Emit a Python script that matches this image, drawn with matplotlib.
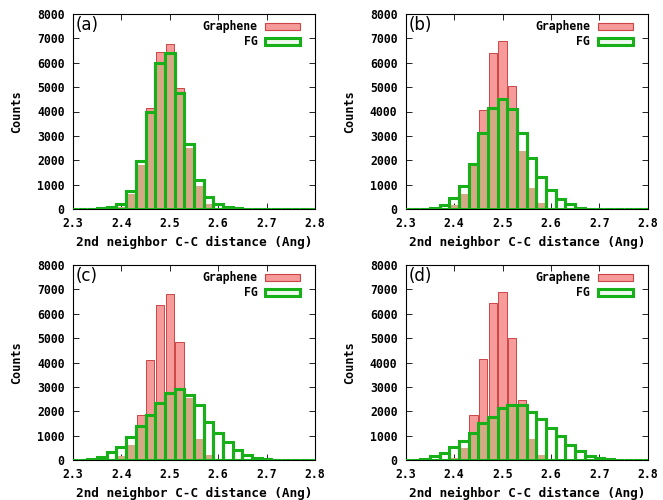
import numpy as np
import matplotlib
matplotlib.use("Agg")
import matplotlib.pyplot as plt
from matplotlib.patches import Patch

# bin centres of the histograms (Ang)
bins = [2.30, 2.32, 2.34, 2.36, 2.38, 2.40, 2.42, 2.44, 2.46, 2.48, 2.50, 2.52, 2.54,
        2.56, 2.58, 2.60, 2.62, 2.64, 2.66, 2.68, 2.70, 2.72, 2.74, 2.76, 2.78, 2.80]

graphene_a = [0, 0, 0, 0, 20, 100, 600, 1800, 4150, 6450, 6750, 4950, 2500,
              950, 200, 50, 0, 0, 0, 0, 0, 0, 0, 0, 0, 0]
fg_a = [0, 0, 0, 30, 100, 220, 720, 1950, 4000, 6000, 6400, 4750, 2650,
        1190, 500, 220, 100, 40, 0, 0, 0, 0, 0, 0, 0, 0]

graphene_b = [0, 0, 0, 0, 30, 150, 600, 1800, 4050, 6400, 6900, 5050, 2400,
              850, 250, 50, 0, 0, 0, 0, 0, 0, 0, 0, 0, 0]
fg_b = [0, 0, 0, 50, 150, 450, 950, 1850, 3100, 4150, 4500, 4100, 3100,
        2100, 1300, 800, 400, 200, 50, 0, 0, 0, 0, 0, 0, 0]

graphene_c = [0, 0, 0, 0, 30, 150, 600, 1850, 4100, 6350, 6800, 4850, 2550,
              850, 200, 30, 0, 0, 0, 0, 0, 0, 0, 0, 0, 0]
fg_c = [0, 0, 60, 140, 320, 550, 950, 1400, 1850, 2350, 2750, 2900, 2650,
        2250, 1550, 1100, 750, 400, 200, 100, 30, 0, 0, 0, 0, 0]

graphene_d = [0, 0, 0, 0, 30, 100, 500, 1850, 4150, 6450, 6900, 5000, 2450,
              850, 200, 30, 0, 0, 0, 0, 0, 0, 0, 0, 0, 0]
fg_d = [0, 0, 60, 180, 300, 520, 780, 1100, 1500, 1750, 2150, 2250, 2250,
        1950, 1700, 1300, 1000, 600, 350, 150, 80, 30, 0, 0, 0, 0]

panels = [("(a)", graphene_a, fg_a), ("(b)", graphene_b, fg_b),
          ("(c)", graphene_c, fg_c), ("(d)", graphene_d, fg_d)]

PINK = "#f79a9a"
RED_EDGE = "#cc4444"
TAN = "#d4aa86"
GREEN = "#18b018"
MONO = "DejaVu Sans Mono"

fig = plt.figure(figsize=(6.63, 5.0), dpi=100)
positions = [
    [0.110, 0.582, 0.365, 0.390],
    [0.612, 0.582, 0.365, 0.390],
    [0.110, 0.080, 0.365, 0.390],
    [0.612, 0.080, 0.365, 0.390],
]

for pos, (tag, gr, fg) in zip(positions, panels):
    ax = fig.add_axes(pos)
    gr = np.array(gr)
    fg = np.array(fg)
    ax.bar(bins, gr, width=0.017, color=PINK, edgecolor=RED_EDGE, linewidth=0.7, zorder=2)
    ax.bar(bins, np.minimum(gr, fg), width=0.017, color=TAN, edgecolor="none", zorder=3)
    ax.bar(bins, fg, width=0.02, fill=False, edgecolor=GREEN, linewidth=2.2, zorder=4)

    ax.set_xlim(2.3, 2.8)
    ax.set_ylim(0, 8000)
    ax.set_xticks([2.3, 2.4, 2.5, 2.6, 2.7, 2.8])
    ax.set_yticks(range(0, 8001, 1000))
    ax.tick_params(direction="in", top=True, right=True, length=4, width=0.6)
    ax.tick_params(axis="x", pad=6)
    ax.tick_params(axis="y", pad=6)
    for lab in ax.get_xticklabels() + ax.get_yticklabels():
        lab.set_family(MONO)
        lab.set_fontweight("bold")
        lab.set_fontsize(8.3)
    for s in ax.spines.values():
        s.set_linewidth(0.8)

    ax.set_xlabel("2nd neighbor C-C distance (Ang)", family=MONO, fontweight="bold",
                  fontsize=9.2, labelpad=4)
    ax.set_ylabel("Counts", family=MONO, fontweight="bold", fontsize=8.5, labelpad=10)
    ax.text(0.012, 0.99, tag, transform=ax.transAxes, ha="left", va="top",
            fontsize=12, zorder=6)

    handles = [Patch(facecolor=PINK, edgecolor=RED_EDGE, linewidth=0.8),
               Patch(facecolor="#eefaee", edgecolor=GREEN, linewidth=2.2)]
    ax.legend(handles, ["Graphene", "FG"], loc="upper right",
              bbox_to_anchor=(0.96, 0.995), frameon=False,
              markerfirst=False, handlelength=3.0, handleheight=0.55,
              handletextpad=0.7, labelspacing=0.2, borderaxespad=0.15,
              borderpad=0.3, prop={"family": MONO, "weight": "bold", "size": 8.3})

fig.savefig("out.png", dpi=100)
